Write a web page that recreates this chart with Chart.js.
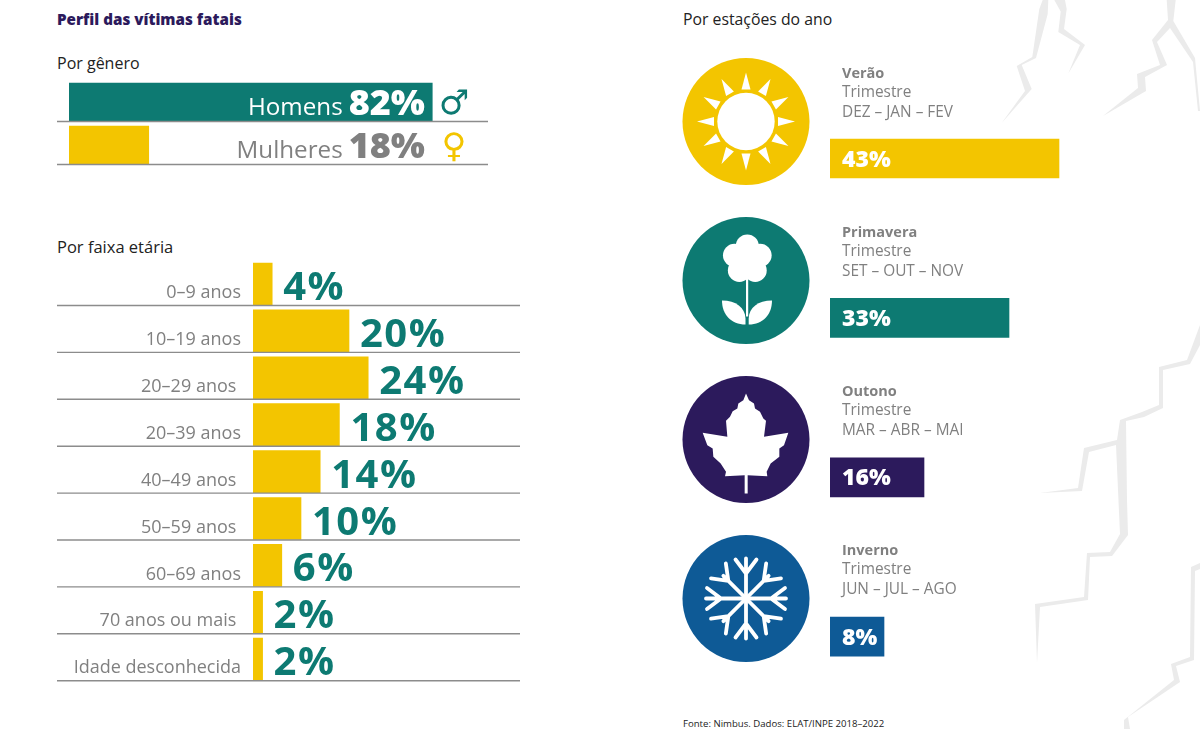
<!DOCTYPE html>
<html lang="pt-BR">
<head>
<meta charset="utf-8">
<title>Perfil das vítimas fatais</title>
<script src="https://cdn.jsdelivr.net/npm/chart.js@4"></script>
<style>
html, body { margin: 0; padding: 0; background: #fff; }
body { position: relative; width: 1200px; height: 729px; overflow: hidden; font-family: "Open Sans", sans-serif; }
canvas, svg, .txt { position: absolute; }
.txt { white-space: nowrap; line-height: 20px; font-size: 16px; color: #222; }
#bolts { left: 0; top: 0; }
</style>
</head>
<body>
<svg id="bolts" width="1200" height="729" fill="#ebebeb">
  <polygon points="1042.7,0 1048.3,0 1047.7,14 1036,58 1021.7,65 1031.7,89 1001.7,123 1025,91 1016.7,66 1032.3,57 1039.3,9"/>
  <polygon points="1054.3,0 1065,0 1066.7,9 1064,29 1085,45 1068.3,73.5 1080,45 1058.3,32 1060.7,11.6"/>
  <polygon points="1166.7,0 1175.7,0 1173.3,21 1195,58 1200,111 1198,111 1193,62 1170,28 1157,42 1167,65 1145,77 1146,91 1103,116 1138,88 1137,74 1160,65 1152,40 1168,20"/>
  <polygon points="1200,325 1200,345 1190,364 1163,370 1163,408 1144,417 1126,421 1127,500 1128,535 1112,556 1090,557 1088,600 1040,607 1037,663 1035,604 1084,597 1087,553 1110,552 1120,534 1116,445 1089,452 1082,491 1040,493 1078,488 1084,448 1117,440 1120,420 1142,412 1159,405 1159,367 1187,360"/>
  <polygon points="1200,563 1200,569 1195,571 1194,660 1176,666 1180,682 1128,717 1130,729 1124,729 1124,720 1174,680 1171,664 1190,657 1191,567"/>
</svg>

<div class="txt" style="left:57px;top:9px;font-size:15.2px;font-weight:800;color:#2c1a5c">Perfil das vítimas fatais</div>
<div class="txt" style="left:57px;top:53px">Por gênero</div>
<div class="txt" style="left:57px;top:237px;font-size:16.5px">Por faixa etária</div>
<div class="txt" style="left:683px;top:9px;font-size:15.8px">Por estações do ano</div>
<div class="txt" style="left:683px;top:714px;font-size:9.6px">Fonte: Nimbus. Dados: ELAT/INPE 2018–2022</div>

<canvas id="genderChart" style="left:0;top:60px" width="540" height="120"></canvas>
<canvas id="ageChart" style="left:0;top:240px" width="560" height="460"></canvas>
<canvas id="seasonChart" style="left:670px;top:0" width="530" height="729"></canvas>

<script>
// dados
const genderLabels = ['Homens', 'Mulheres'];
const genderValues = [82, 18];
const genderSymbols = ['♂', '♀'];

const ageLabels = ['0–9 anos', '10–19 anos', '20–29 anos', '20–39 anos', '40–49 anos', '50–59 anos', '60–69 anos', '70 anos ou mais', 'Idade desconhecida'];
const ageValues = [4, 20, 24, 18, 14, 10, 6, 2, 2];

const seasonNames = ['Verão', 'Primavera', 'Outono', 'Inverno'];
const seasonSub = ['Trimestre', 'Trimestre', 'Trimestre', 'Trimestre'];
const seasonMonths = ['DEZ – JAN – FEV', 'SET – OUT – NOV', 'MAR – ABR – MAI', 'JUN – JUL – AGO'];
const seasonValues = [43, 33, 16, 8];

const TEAL = '#0d7a72', YELLOW = '#f3c500', PURPLE = '#2c1a5c', BLUE = '#0e5a96', GRAY = '#808080', RULE = '#8c8c8c';
const FONT = '"Open Sans", sans-serif';
const seasonColors = [YELLOW, TEAL, PURPLE, BLUE];

Chart.defaults.animation = false;
Chart.defaults.responsive = false;
Chart.defaults.plugins.legend.display = false;
Chart.defaults.plugins.tooltip.enabled = false;

// linha cinza embaixo de cada barra
function rowRules(left, right, thickness) {
    return {
        id: 'rowRules',
        afterDatasetsDraw(chart) {
            const ctx = chart.ctx, y = chart.scales.y;
            ctx.save();
            ctx.strokeStyle = RULE;
            ctx.lineWidth = 1.4;
            chart.data.labels.forEach((_, i) => {
                const py = y.getPixelForValue(i) + thickness / 2 + 0.5;
                ctx.beginPath();
                ctx.moveTo(left, py);
                ctx.lineTo(right, py);
                ctx.stroke();
            });
            ctx.restore();
        }
    };
}

const genderLabelPlugin = {
    id: 'genderLabels',
    afterDatasetsDraw(chart) {
        const ctx = chart.ctx, y = chart.scales.y;
        const colors = ['#fff', GRAY];
        const symColors = [TEAL, YELLOW];
        genderValues.forEach((v, i) => {
            const py = y.getPixelForValue(i);
            ctx.save();
            ctx.textBaseline = 'alphabetic';
            ctx.textAlign = 'right';
            ctx.fillStyle = colors[i];
            ctx.font = '800 36px ' + FONT;
            ctx.fillText(v + '%', 425, py + 13);
            const w = ctx.measureText(v + '%').width;
            ctx.font = '400 24.2px ' + FONT;
            ctx.fillText(genderLabels[i], 425 - w - 6, py + 13);
            ctx.textAlign = 'center';
            ctx.fillStyle = symColors[i];
            ctx.font = '700 34px "DejaVu Sans"';
            ctx.fillText(genderSymbols[i], 454, py + 12);
            ctx.restore();
        });
    }
};

const ageLabelPlugin = {
    id: 'ageValueLabels',
    afterDatasetsDraw(chart) {
        const ctx = chart.ctx, x = chart.scales.x, y = chart.scales.y;
        ctx.save();
        ctx.fillStyle = TEAL;
        ctx.font = '700 40px ' + FONT;
        ctx.letterSpacing = '1.5px';
        ctx.textBaseline = 'alphabetic';
        ageValues.forEach((v, i) => {
            ctx.fillText(v + '%', x.getPixelForValue(v) + 11, y.getPixelForValue(i) + 16);
        });
        ctx.restore();
    }
};

// ícones das estações, centro (0,0), raio 63.5
function drawSun(ctx) {
    ctx.beginPath();
    ctx.arc(0, 0, 28.7, 0, Math.PI * 2);
    ctx.fill();
    for (let k = 0; k < 12; k++) {
        ctx.save();
        ctx.rotate(k * Math.PI / 6);
        ctx.beginPath();
        ctx.moveTo(-4.5, -32);
        ctx.lineTo(4.5, -32);
        ctx.lineTo(0, -49);
        ctx.closePath();
        ctx.fill();
        ctx.restore();
    }
}

function drawFlower(ctx) {
    for (let k = 0; k < 5; k++) {
        const a = -Math.PI / 2 + k * 2 * Math.PI / 5;
        ctx.beginPath();
        ctx.arc(1.3 + 13.5 * Math.cos(a), -21 + 13.5 * Math.sin(a), 11.5, 0, Math.PI * 2);
        ctx.fill();
    }
    ctx.beginPath();
    ctx.arc(1.3, -21, 11, 0, Math.PI * 2);
    ctx.fill();
    ctx.fillRect(0, -8, 2.2, 44);
    ctx.fill(new Path2D('M-24 20C-10 20 -1 27 -0.5 38L-0.5 44C-15 44 -24 34 -24 20Z'));
    ctx.fill(new Path2D('M26 20C12 20 3 27 2.7 38L2.7 44C17 44 26 34 26 20Z'));
}

function drawLeaf(ctx) {
    const pts = [[198,60],[207,80],[222,90],[225,105],[240,115],[250,135],[258,142],[252,190],[325,178],[312,215],[298,225],[298,250],[272,270],[260,295],[262,308],[203,305],[203,360],[194,360],[194,305],[135,308],[138,295],[122,270],[100,250],[98,225],[82,215],[68,178],[142,190],[138,142],[150,130],[158,113],[172,105],[175,90],[190,80]];
    ctx.beginPath();
    pts.forEach((p, i) => {
        const px = (p[0] - 198) / 3, py = (p[1] - 198) / 3;
        if (i === 0) ctx.moveTo(px, py); else ctx.lineTo(px, py);
    });
    ctx.closePath();
    ctx.fill();
}

function drawSnow(ctx) {
    ctx.strokeStyle = '#fff';
    ctx.lineWidth = 3.8;
    ctx.lineCap = 'round';
    for (let k = 0; k < 8; k++) {
        ctx.save();
        ctx.rotate(k * Math.PI / 4);
        ctx.beginPath();
        ctx.moveTo(0, 0);
        ctx.lineTo(0, k % 2 ? -32 : -40);
        ctx.moveTo(0, -25);
        ctx.lineTo(-10.5, -39);
        ctx.moveTo(0, -25);
        ctx.lineTo(10.5, -39);
        ctx.stroke();
        ctx.restore();
    }
}

const seasonIcons = [drawSun, drawFlower, drawLeaf, drawSnow];

const seasonLabelPlugin = {
    id: 'seasonLabels',
    afterDatasetsDraw(chart) {
        const ctx = chart.ctx, x = chart.scales.x, y = chart.scales.y;
        const left = x.left;
        seasonValues.forEach((v, i) => {
            const py = y.getPixelForValue(i);
            // ícones e textos têm passo um pouco menor que o das barras
            const iy = py - i * 0.4;
            ctx.save();
            ctx.translate(76, iy - 37);
            ctx.fillStyle = seasonColors[i];
            ctx.beginPath();
            ctx.arc(0, 0, 63.5, 0, Math.PI * 2);
            ctx.fill();
            ctx.fillStyle = '#fff';
            seasonIcons[i](ctx);
            ctx.restore();
            // textos
            ctx.save();
            ctx.textBaseline = 'middle';
            ctx.fillStyle = GRAY;
            ctx.font = '700 14.5px ' + FONT;
            ctx.fillText(seasonNames[i], left + 12, iy - 84.5);
            ctx.font = '400 15.4px ' + FONT;
            ctx.fillText(seasonSub[i], left + 12, iy - 65.5);
            ctx.fillText(seasonMonths[i], left + 12, iy - 45.5);
            ctx.fillStyle = '#fff';
            ctx.font = '800 23px ' + FONT;
            ctx.fillText(v + '%', left + 12, py + 1.5);
            ctx.restore();
        });
    }
};

new Chart(document.getElementById('genderChart'), {
    type: 'bar',
    data: {
        labels: genderLabels,
        datasets: [{ data: genderValues, backgroundColor: [TEAL, YELLOW], barThickness: 38 }]
    },
    options: {
        indexAxis: 'y',
        layout: { padding: { left: 69, right: 28, top: 20.5, bottom: 13.5 } },
        scales: {
            x: { display: false, min: 0, max: 100 },
            y: { display: false }
        }
    },
    plugins: [rowRules(57, 488, 38), genderLabelPlugin]
});

// na figura alguns rótulos ficam um pouco mais à esquerda
const ageLabelsInset = [2, 4, 5, 7];

new Chart(document.getElementById('ageChart'), {
    type: 'bar',
    data: {
        labels: ageLabels,
        datasets: [{ data: ageValues, backgroundColor: YELLOW, barThickness: 42 }]
    },
    options: {
        indexAxis: 'y',
        layout: { padding: { left: 0, right: 67, top: 20.55, bottom: 17.35 } },
        scales: {
            x: { display: false, min: 0, max: 50 },
            y: {
                afterFit(scale) { scale.width = 253; scale.paddingTop = 0; scale.paddingBottom = 0; },
                border: { display: false },
                grid: { display: false, drawTicks: false },
                ticks: {
                    color: GRAY,
                    font: { family: FONT, size: 18 },
                    padding: 12,
                    labelOffset: 9,
                    autoSkip: false,
                    callback: (v, i) => ageLabels[i] + (ageLabelsInset.includes(i) ? ' ' : '')
                }
            }
        }
    },
    plugins: [rowRules(57, 520, 42), ageLabelPlugin]
});

new Chart(document.getElementById('seasonChart'), {
    type: 'bar',
    data: {
        labels: seasonNames,
        // base negativa: as barras da figura têm uma folga fixa para o rótulo
        datasets: [{ data: seasonValues, base: -2.8, backgroundColor: seasonColors, barThickness: 39 }]
    },
    options: {
        indexAxis: 'y',
        layout: { padding: { left: 160, right: 106, top: 78.8, bottom: 12.6 } },
        scales: {
            x: { display: false, min: -2.8, max: 50 },
            y: { display: false }
        }
    },
    plugins: [seasonLabelPlugin]
});
</script>
</body>
</html>
